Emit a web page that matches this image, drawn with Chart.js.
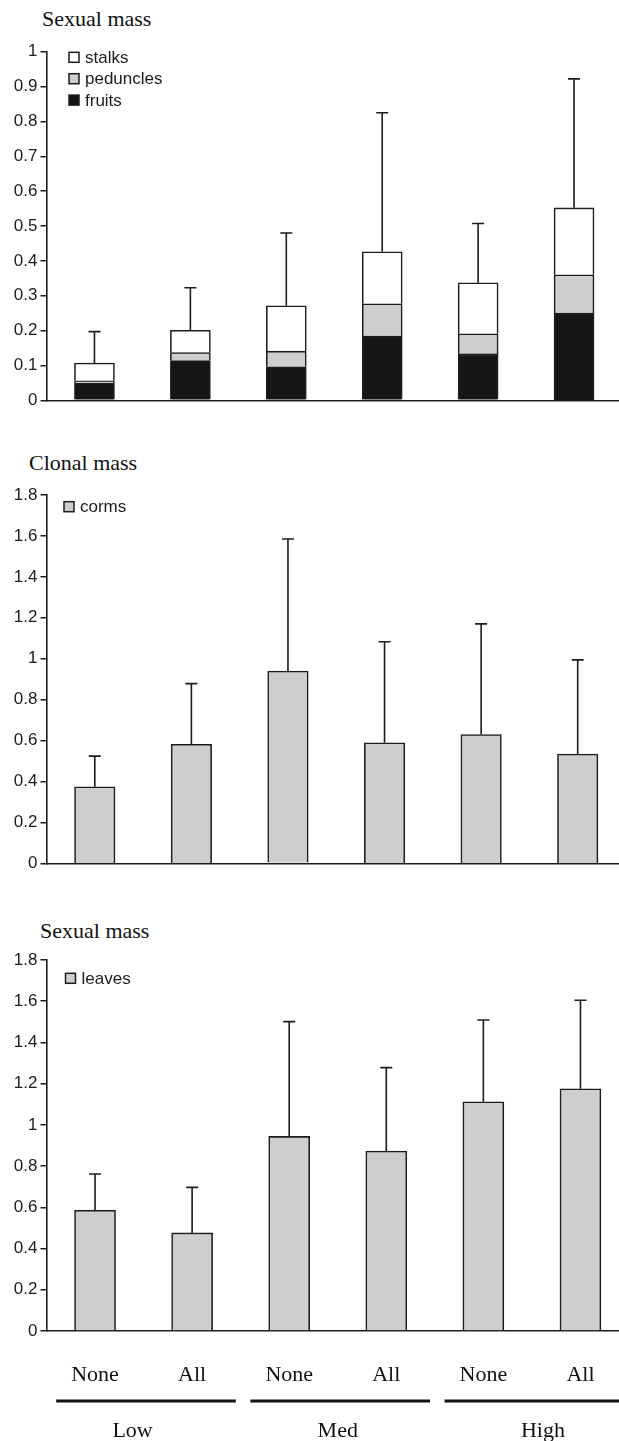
<!DOCTYPE html>
<html>
<head>
<meta charset="utf-8">
<script src="https://cdn.jsdelivr.net/npm/chart.js@4.4.1/dist/chart.umd.min.js"></script>
<style>
  html, body { margin: 0; padding: 0; background: #fff; }
  body { width: 619px; height: 1441px; position: relative; overflow: hidden; }
  .wrap { position: absolute; left: 0; }
  .ttl { position: absolute; font: 22px 'Liberation Serif', 'Times New Roman', serif; line-height: 22px; color: #111; white-space: nowrap; }
</style>
</head>
<body>
<div class="ttl" style="left:42px;top:8px;">Sexual mass</div>
<div class="ttl" style="left:29px;top:452px;">Clonal mass</div>
<div class="ttl" style="left:40px;top:920px;">Sexual mass</div>

<div class="wrap" style="top:0;"><canvas id="c1" width="622" height="430"></canvas></div>
<div class="wrap" style="top:440px;"><canvas id="c2" width="626" height="440"></canvas></div>
<div class="wrap" style="top:900px;"><canvas id="c3" width="629" height="541"></canvas></div>

<script>
// ── Data ─────────────────────────────────────────────────────────
const treatments = ['None', 'All', 'None', 'All', 'None', 'All'];
const groups     = ['Low', 'Med', 'High'];

// top panel: stacked segments
const fruits    = [0.049, 0.114, 0.096, 0.184, 0.133, 0.250];
const peduncles = [0.007, 0.023, 0.045, 0.093, 0.058, 0.110];
const stalks    = [0.051, 0.064, 0.130, 0.149, 0.146, 0.192];
const sexualErr = [0.090, 0.122, 0.209, 0.399, 0.170, 0.370];

// middle panel
const corms    = [0.374, 0.582, 0.940, 0.589, 0.629, 0.534];
const cormsErr = [0.150, 0.296, 0.645, 0.494, 0.541, 0.460];

// bottom panel
const leaves    = [0.586, 0.476, 0.944, 0.873, 1.112, 1.175];
const leavesErr = [0.176, 0.221, 0.557, 0.405, 0.397, 0.430];

const INK   = '#1c1c1c';
const GREY  = '#cdcfce';
const BLACK = '#161616';
const SANS  = "'Liberation Sans', Arial, sans-serif";
const SERIF = "'Liberation Serif', 'Times New Roman', serif";

// ── Plugins ──────────────────────────────────────────────────────
const errorBars = {
  id: 'errorBars',
  afterDatasetsDraw(chart, args, opts) {
    const errs = opts.values;
    if (!errs) return;
    const { ctx } = chart;
    const y = chart.scales.y;
    const ds = chart.data.datasets;
    const topMeta = chart.getDatasetMeta(ds.length - 1);
    ctx.save();
    ctx.strokeStyle = INK;
    ctx.lineWidth = 1.6;
    errs.forEach((e, i) => {
      const total = ds.reduce((s, d) => s + d.data[i], 0);
      const x = topMeta.data[i].x;
      const y0 = y.getPixelForValue(total);
      const y1 = y.getPixelForValue(total + e);
      ctx.beginPath();
      ctx.moveTo(x, y0); ctx.lineTo(x, y1);
      ctx.moveTo(x - 6, y1); ctx.lineTo(x + 6, y1);
      ctx.stroke();
    });
    ctx.restore();
  }
};

const boxLegend = {
  id: 'boxLegend',
  afterDraw(chart, args, opts) {
    const { ctx, chartArea } = chart;
    const items = chart.data.datasets.slice().reverse();
    ctx.save();
    ctx.font = '17px ' + SANS;
    ctx.textBaseline = 'middle';
    items.forEach((d, k) => {
      const cy = chartArea.top + opts.dy + k * opts.gap;
      const bx = chartArea.left + opts.dx;
      ctx.fillStyle = d.backgroundColor;
      ctx.fillRect(bx, cy - 5, 10, 10);
      ctx.strokeStyle = INK;
      ctx.lineWidth = 1.5;
      ctx.strokeRect(bx, cy - 5, 10, 10);
      ctx.fillStyle = INK;
      ctx.fillText(d.label, bx + 16, cy + 1);
    });
    ctx.restore();
  }
};

// group underline + Low/Med/High labels under the treatment ticks
const groupAxis = {
  id: 'groupAxis',
  afterDraw(chart, args, opts) {
    if (!opts.labels) return;
    const { ctx, chartArea } = chart;
    const x = chart.scales.x;
    const cat = x.getPixelForValue(1) - x.getPixelForValue(0);
    const ly = chartArea.bottom + 70;
    ctx.save();
    ctx.strokeStyle = '#111';
    ctx.lineWidth = 3;
    ctx.fillStyle = '#111';
    ctx.font = '22px ' + SERIF;
    ctx.textAlign = 'center';
    ctx.textBaseline = 'middle';
    opts.labels.forEach((g, k) => {
      const a = x.getPixelForValue(2 * k);
      const b = x.getPixelForValue(2 * k + 1);
      ctx.beginPath();
      ctx.moveTo(a - 0.4 * cat, ly);
      ctx.lineTo(b + 0.45 * cat, ly);
      ctx.stroke();
      ctx.fillText(g, (a + b) / 2 + (k - 1) * 11, ly + 30);
    });
    ctx.restore();
  }
};

// ── Builder ──────────────────────────────────────────────────────
function panel(id, datasets, cfg) {
  return new Chart(document.getElementById(id), {
    type: 'bar',
    data: { labels: treatments, datasets },
    plugins: [errorBars, boxLegend, groupAxis],
    options: {
      responsive: false,
      animation: false,
      layout: { padding: { top: cfg.top, left: 0, right: 0, bottom: 0 } },
      datasets: { bar: { barThickness: cfg.bar, borderColor: INK, borderWidth: 1.6 } },
      scales: {
        x: {
          stacked: true,
          grid: { display: false },
          border: { display: true, color: INK, width: 1.6 },
          ticks: {
            display: !!cfg.xLabels,
            color: '#111',
            padding: 23,
            maxRotation: 0,
            autoSkip: false,
            font: { family: SERIF, size: 22 }
          },
          afterFit: s => { s.height = cfg.xh; }
        },
        y: {
          stacked: true,
          min: 0,
          max: cfg.max,
          grid: { drawOnChartArea: false, color: INK, lineWidth: 1.5, tickLength: 6 },
          border: { display: true, color: INK, width: 1.6 },
          ticks: {
            stepSize: cfg.step,
            padding: 3,
            color: INK,
            font: { family: SANS, size: 17 },
            callback: v => String(+v.toFixed(1))
          },
          afterFit: s => { s.width = 46.5; }
        }
      },
      plugins: {
        legend: { display: false },
        tooltip: { enabled: false },
        errorBars: { values: cfg.err },
        boxLegend: cfg.legend,
        groupAxis: { labels: cfg.groups }
      }
    }
  });
}

panel('c1', [
  { label: 'fruits',    data: fruits,    backgroundColor: BLACK },
  { label: 'peduncles', data: peduncles, backgroundColor: GREY },
  { label: 'stalks',    data: stalks,    backgroundColor: '#ffffff' }
], { top: 51.7, xh: 29.7, max: 1, step: 0.1, bar: 40, err: sexualErr,
     legend: { dx: 22.5, dy: 5.6, gap: 21.4 } });

panel('c2', [
  { label: 'corms', data: corms, backgroundColor: GREY }
], { top: 55, xh: 16.7, max: 1.8, step: 0.2, bar: 40.5, err: cormsErr,
     legend: { dx: 17.5, dy: 11.7, gap: 0 } });

panel('c3', [
  { label: 'leaves', data: leaves, backgroundColor: GREY }
], { top: 60, xh: 110, max: 1.8, step: 0.2, bar: 41, err: leavesErr,
     legend: { dx: 19, dy: 18.3, gap: 0 }, xLabels: true, groups });
</script>
</body>
</html>
